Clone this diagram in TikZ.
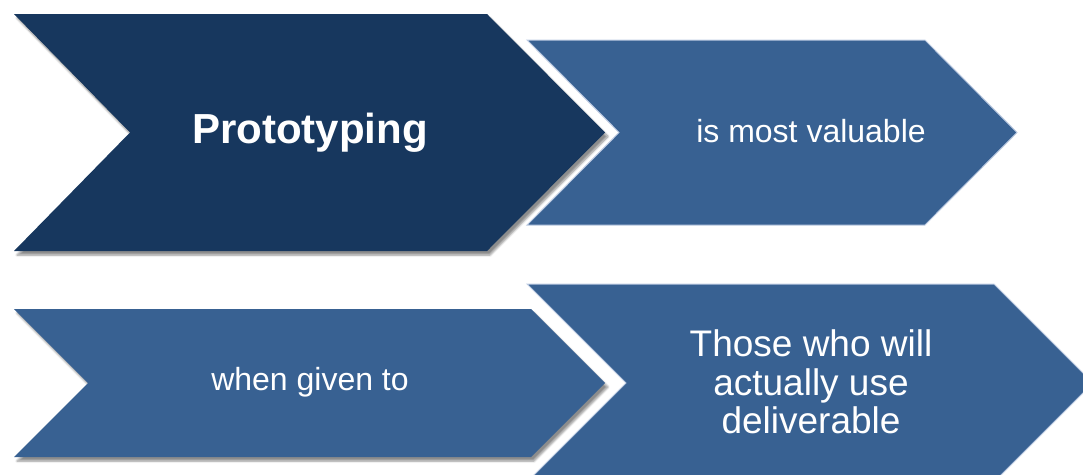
\documentclass[tikz,border=0pt]{standalone}
\usepackage{fontspec}
\setmainfont{Liberation Sans}
\usetikzlibrary{shadows.blur}
\definecolor{navy}{RGB}{23,55,94}
\definecolor{midblue}{RGB}{56,97,146}
\definecolor{edgeblue}{RGB}{190,204,226}
\tikzset{
  darkchev/.style={fill=navy, blur shadow={shadow xshift=3pt, shadow yshift=-4pt, shadow blur steps=6, shadow opacity=45}},
  bluechev/.style={fill=midblue},
  shadchev/.style={fill=midblue, blur shadow={shadow xshift=3pt, shadow yshift=-4pt, shadow blur steps=6, shadow opacity=45}},
  edgechev/.style={fill=midblue, draw=edgeblue, line width=1pt},
  lbl/.style={text=white, inner sep=0pt, align=center}
}
\begin{document}
\begin{tikzpicture}[x=1pt,y=-1pt]
\useasboundingbox (0,0) rectangle (1083,474);
\clip (0,0) rectangle (1083,474);
% chevrons
\path[edgechev] (527,40) -- (925,40) -- (1017,132.5) -- (925,225) -- (527,225) -- (619,132.5) -- cycle;
\path[edgechev] (527,284) -- (994,284) -- (1093,383) -- (994,482) -- (527,482) -- (626,383) -- cycle;
\path[darkchev] (14,14) -- (487,14) -- (605,132.5) -- (487,251) -- (14,251) -- (130,132.5) -- cycle;
\path[shadchev] (14,309) -- (531,309) -- (605,383) -- (531,457) -- (14,457) -- (88,383) -- cycle;
% labels
\node[lbl, font=\fontsize{42}{50}\selectfont\bfseries] (proto) at (310,133) {Prototyping};
\node[lbl, font=\fontsize{32}{38}\selectfont] (valuable) at (811,131) {is most valuable};
\node[lbl, font=\fontsize{32}{38}\selectfont] (given) at (310,382) {when given to};
\node[lbl, font=\fontsize{37}{38.5}\selectfont] (those) at (811,382) {Those who will\\actually use\\deliverable};
\end{tikzpicture}
\end{document}
